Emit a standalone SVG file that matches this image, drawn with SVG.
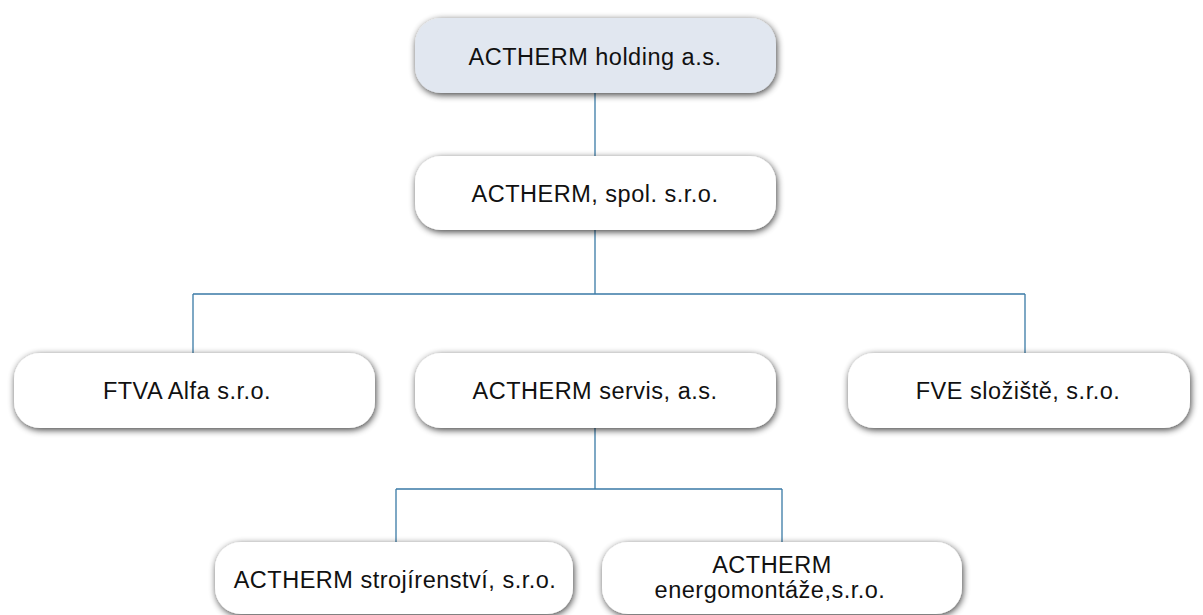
<svg xmlns="http://www.w3.org/2000/svg" width="1203" height="615" viewBox="0 0 1203 615">
<defs>
<filter id="sh" x="-10%" y="-30%" width="120%" height="160%">
<feGaussianBlur in="SourceAlpha" stdDeviation="3.5"/>
<feOffset dx="1" dy="2" result="b"/>
<feComponentTransfer><feFuncA type="linear" slope="0.75"/></feComponentTransfer>
<feMerge><feMergeNode/><feMergeNode in="SourceGraphic"/></feMerge>
</filter>
</defs>
<style>
.box{fill:#ffffff;filter:url(#sh)}
.top{fill:#e1e7f0}
.t{font-family:"Liberation Sans",Arial,sans-serif;font-size:23.5px;letter-spacing:0.5px;fill:#111;text-anchor:middle}
.c{fill:none;stroke:#3a7aa6;stroke-width:1.3}
</style>
<rect width="1203" height="615" fill="#fff"/>
<g id="connectors">
<path class="c" d="M595 93V156"/>
<path class="c" d="M595 230V294M193 294H1025M193 294V353M1025 294V353"/>
<path class="c" d="M595 428V489M396 489H782M396 489V542M782 489V542"/>
</g>
<g id="n-holding"><rect class="box top" x="415" y="18" width="361" height="75" rx="26"/><text class="t" x="595" y="65">ACTHERM holding a.s.</text></g>
<g id="n-spol"><rect class="box" x="415" y="156" width="361" height="74" rx="26"/><text class="t" x="595" y="202">ACTHERM, spol. s.r.o.</text></g>
<g id="n-ftva"><rect class="box" x="14" y="353" width="361" height="75" rx="26"/><text class="t" x="187" y="399">FTVA Alfa s.r.o.</text></g>
<g id="n-servis"><rect class="box" x="415" y="353" width="361" height="75" rx="26"/><text class="t" x="595" y="399">ACTHERM servis, a.s.</text></g>
<g id="n-fve"><rect class="box" x="848" y="353" width="342" height="75" rx="26"/><text class="t" x="1018" y="399">FVE složiště, s.r.o.</text></g>
<g id="n-stroj"><rect class="box" x="215" y="542" width="358" height="72" rx="26"/><text class="t" x="395" y="588">ACTHERM strojírenství, s.r.o.</text></g>
<g id="n-energo"><rect class="box" x="602" y="542" width="360" height="72" rx="26"/><text class="t" x="772" y="573">ACTHERM</text><text class="t" x="770" y="598">energomontáže,s.r.o.</text></g>
</svg>
